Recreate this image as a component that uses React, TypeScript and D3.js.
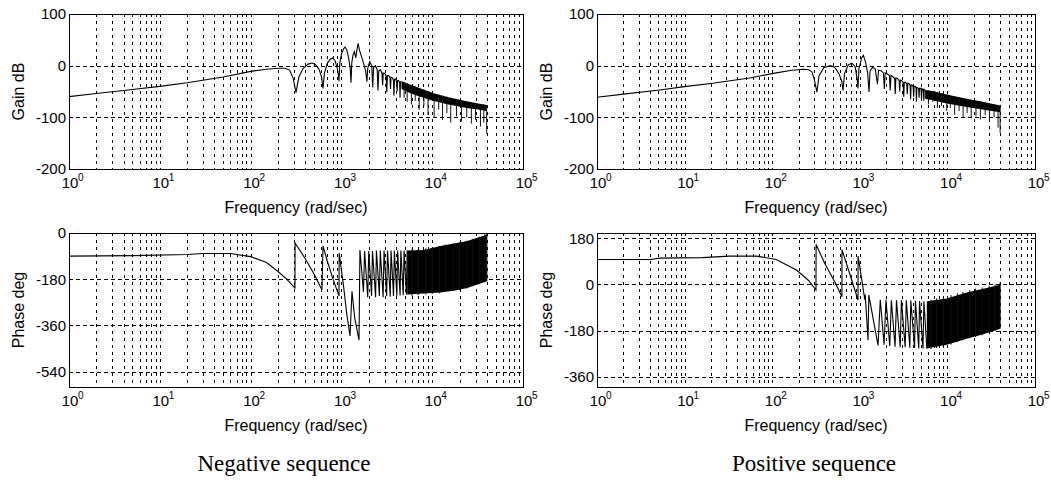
import { useRef, useEffect } from "react";
import * as d3 from "d3";

// ---------- Negative sequence : gain (dB)
const negGainFreq = [
  1, 2, 5, 10, 20, 50, 100, 150, 200, 240,
  270, 295, 316, 340, 380, 430, 474, 520, 570, 605,
  627, 650, 700, 760, 800, 850, 900, 930, 941, 960,
  1000, 1060, 1100, 1150, 1200, 1250, 1276, 1300, 1340, 1390,
  1440, 1480, 1530, 1580, 1650, 1750, 1850, 1910, 1950, 2050,
  2160, 2212, 2260, 2370, 2480, 2528, 2580, 2690, 2800, 2844,
  2890, 3000, 3110, 3160, 3210, 3320, 3430, 3476, 3520, 3630,
  3740, 3792, 3840, 3950, 4060, 4108, 4160, 4270, 4380, 4424,
  4470, 4590,
];
const negGainDb = [
  -60, -54, -46, -40, -33, -22, -11, -7, -5, -5,
  -9, -25, -52, -22, -5, 3, 5, 2, -8, -22,
  -44, -15, 5, 13, 15, 10, -5, -20, -30, 5,
  22, 33, 36, 30, 15, -5, -33, 5, 20, 27,
  15, 30, 43, 30, 20, 5, -10, -31, -5, 8,
  0, -42, -3, 0, -8, -48, -10, -8, -15, -38,
  -14, -15, -20, -52, -19, -19, -24, -45, -22, -23,
  -28, -58, -26, -26, -31, -50, -29, -29, -33, -62,
  -31, -31,
];
const negGainBandFreq = [4590, 6000, 8000, 10200, 15000, 24000, 32000, 40000];
const negGainBandTop = [-30, -38, -46, -53, -61, -69, -73, -76];
const negGainBandLow = [-45, -55, -62, -68, -75, -82, -85, -88];
const negGainSpikeFreq = [4900, 5300, 5900, 6500, 7200, 8100, 9000, 10500, 11800, 13000, 14500, 16000, 18500, 21000, 24000, 27000, 30000, 34000, 37000, 39800];
const negGainSpikeTop = [-32, -34, -37, -40, -43, -46, -49, -54, -56, -58, -60, -62, -65, -67, -69, -71, -72, -74, -75, -76];
const negGainSpikeLow = [-62, -70, -75, -68, -85, -78, -95, -100, -85, -105, -92, -110, -98, -108, -100, -112, -105, -118, -110, -132];

// ---------- Positive sequence : gain (dB)
const posGainFreq = [
  1, 2, 5.2, 10.5, 21, 55, 111, 168, 226, 260,
  284, 301, 324, 342, 388, 459, 517, 576, 623, 643,
  670, 741, 813, 885, 931, 953, 979, 1051, 1099, 1159,
  1230, 1274, 1310, 1400, 1500, 1590, 1640, 1750, 1860, 1906,
  1950, 2060, 2180, 2222, 2270, 2380, 2500, 2538, 2580, 2700,
  2810, 2854, 2900, 3010, 3130, 3170, 3220, 3330, 3440, 3486,
  3530, 3650, 3760, 3802, 3850, 3960, 4070, 4118, 4170, 4280,
  4390, 4434, 4480, 4600, 4700, 4750, 4800, 5000, 5066, 5120,
  5300, 5382, 5440, 5570,
];
const posGainDb = [
  -61, -55, -47, -40, -34, -24, -14, -9, -7, -8,
  -12, -25, -51, -20, -4, 0, -3, -15, -30, -48,
  -15, 2, 5, -2, -25, -44, -5, 15, 20, 8,
  -15, -51, -10, -3, -6, -36, -9, -10, -14, -45,
  -14, -16, -19, -48, -19, -21, -25, -55, -24, -25,
  -29, -50, -28, -29, -33, -60, -32, -32, -36, -55,
  -34, -35, -39, -65, -37, -38, -41, -60, -40, -40,
  -43, -70, -42, -43, -45, -62, -44, -44, -65, -45,
  -46, -68, -46, -47,
];
const posGainBandFreq = [5570, 6800, 9820, 16600, 25100, 40000];
const posGainBandTop = [-47, -49, -56, -64, -70, -77];
const posGainBandLow = [-64, -67, -73, -80, -85, -90];
const posGainSpikeFreq = [6070, 6820, 7690, 8570, 9820, 10800, 12100, 13600, 15100, 16800, 18700, 21200, 23800, 27000, 30200, 34100, 37900, 40000];
const posGainSpikeTop = [-48, -49, -51, -53, -56, -58, -60, -61, -63, -64, -66, -68, -69, -71, -73, -75, -76, -77];
const posGainSpikeLow = [-75, -70, -82, -78, -88, -82, -95, -88, -100, -92, -102, -98, -104, -96, -108, -100, -120, -130];

// ---------- Negative sequence : phase (deg)
const negPhaseFreq = [
  1, 5, 20, 30, 60, 100, 150, 200, 250, 290,
  308, 309, 400, 500, 611, 627, 700, 800, 941, 945,
  1050, 1150, 1245, 1308, 1400, 1563, 1600, 1750, 1800, 1950,
  2000, 2150, 2200, 2380, 2430, 2620, 2680, 2880, 2950, 3150,
  3220, 3450, 3520, 3750, 3830, 4080, 4160, 4430, 4520, 4800,
  4900, 5200, 5300,
];
const negPhaseDeg = [
  -90, -88, -84, -80, -80, -92, -115, -150, -180, -205,
  -214, -39, -100, -160, -222, -50, -110, -175, -245, -78,
  -200, -320, -401, -227, -330, -417, -66, -230, -70, -250,
  -70, -245, -70, -250, -68, -245, -68, -250, -68, -245,
  -68, -248, -68, -245, -68, -245, -68, -243, -68, -242,
  -68, -240, -68,
];
const negPhaseBandFreq = [5300, 8000, 12300, 18000, 24300, 32000, 40000];
const negPhaseBandTop = [-68, -66, -51, -40, -31, -18, -7];
const negPhaseBandLow = [-240, -236, -232, -224, -214, -200, -188];
const negPhaseSpikeFreq = [6000, 7000, 8500, 10000, 12000, 14000, 17000, 20000, 24000, 28000, 33000, 38000, 40000];
const negPhaseSpikeTop = [-62, -64, -60, -58, -50, -45, -40, -36, -30, -22, -14, -4, 0];
const negPhaseSpikeLow = [-245, -242, -240, -238, -235, -230, -226, -222, -216, -208, -200, -192, -188];

// ---------- Positive sequence : phase (deg)
const posPhaseFreq = [
  1, 4.1, 5.2, 16, 32, 66, 111, 191, 260, 316,
  317, 400, 517, 625, 626, 753, 954, 956, 1051, 1140,
  1153, 1241, 1268, 1614, 1713, 1892, 1990, 2197, 2292, 2525,
  2624, 2891, 2987, 3296, 3395, 3725, 3822, 4218, 4317, 4710,
  4808, 5262, 5391, 5823,
];
const posPhaseDeg = [
  97, 97, 102, 104, 110, 110, 97, 55, 15, -22,
  155, 80, 10, -48, 135, 50, -61, 110, 20, -60,
  -40, -218, -42, -238, -60, -235, -60, -240, -62, -243,
  -62, -245, -62, -245, -62, -247, -63, -248, -64, -250,
  -65, -250, -66, -250,
];
const posPhaseBandFreq = [5823, 9820, 16600, 25100, 40000];
const posPhaseBandTop = [-66, -55, -32, -18, -2];
const posPhaseBandLow = [-250, -235, -212, -195, -173];
const posPhaseSpikeFreq = [6500, 7500, 9000, 11000, 13000, 15000, 18000, 21000, 25000, 30000, 35000, 40000];
const posPhaseSpikeTop = [-60, -55, -50, -42, -35, -30, -22, -17, -12, -6, 0, 8];
const posPhaseSpikeLow = [-252, -248, -242, -235, -225, -218, -210, -205, -198, -190, -182, -173];

const gainTicks = [-200, -100, 0, 100];
const negPhaseTicks = [-540, -360, -180, 0];
const posPhaseTicks = [-360, -180, 0, 180];
const decadeExps = [0, 1, 2, 3, 4, 5];
const captions = ["Negative sequence", "Positive sequence"];

const SANS = "'Liberation Sans', Arial, Helvetica, sans-serif";
const SERIF = "'Liberation Serif', 'Times New Roman', serif";

const panels = [
  {
    x0: 69, x1: 523, y0: 14, y1: 169, yDomain: [-200, 100], yTicks: gainTicks, yLabel: "Gain dB",
    lineFreq: negGainFreq, lineVal: negGainDb,
    bandFreq: negGainBandFreq, bandTop: negGainBandTop, bandLow: negGainBandLow,
    spikeFreq: negGainSpikeFreq, spikeTop: negGainSpikeTop, spikeLow: negGainSpikeLow,
  },
  {
    x0: 597, x1: 1035, y0: 14, y1: 169, yDomain: [-200, 100], yTicks: gainTicks, yLabel: "Gain dB",
    lineFreq: posGainFreq, lineVal: posGainDb,
    bandFreq: posGainBandFreq, bandTop: posGainBandTop, bandLow: posGainBandLow,
    spikeFreq: posGainSpikeFreq, spikeTop: posGainSpikeTop, spikeLow: posGainSpikeLow,
  },
  {
    x0: 69, x1: 523, y0: 233, y1: 387, yDomain: [-600, 0], yTicks: negPhaseTicks, yLabel: "Phase deg",
    lineFreq: negPhaseFreq, lineVal: negPhaseDeg,
    bandFreq: negPhaseBandFreq, bandTop: negPhaseBandTop, bandLow: negPhaseBandLow,
    spikeFreq: negPhaseSpikeFreq, spikeTop: negPhaseSpikeTop, spikeLow: negPhaseSpikeLow,
  },
  {
    x0: 597, x1: 1035, y0: 233, y1: 387, yDomain: [-400, 200], yTicks: posPhaseTicks, yLabel: "Phase deg",
    lineFreq: posPhaseFreq, lineVal: posPhaseDeg,
    bandFreq: posPhaseBandFreq, bandTop: posPhaseBandTop, bandLow: posPhaseBandLow,
    spikeFreq: posPhaseSpikeFreq, spikeTop: posPhaseSpikeTop, spikeLow: posPhaseSpikeLow,
  },
];

type Panel = (typeof panels)[number];

function drawPanel(svg: d3.Selection<SVGSVGElement, unknown, null, undefined>, p: Panel, idx: number) {
  const x = d3.scaleLog().domain([1, 1e5]).range([p.x0, p.x1]);
  const y = d3.scaleLinear().domain(p.yDomain).range([p.y1, p.y0]);
  const snap = (v: number) => Math.round(v) + 0.5;
  const g = svg.append("g");

  // log grid: every 2..9 x 10^k plus the decades
  const gridX: number[] = [];
  for (let k = 0; k < 5; k++) {
    for (let m = 1; m <= 9; m++) {
      const v = m * Math.pow(10, k);
      if (v > 1) gridX.push(v);
    }
  }
  g.append("g")
    .selectAll("line")
    .data(gridX)
    .join("line")
    .attr("x1", (d) => snap(x(d)))
    .attr("x2", (d) => snap(x(d)))
    .attr("y1", p.y0)
    .attr("y2", p.y1)
    .attr("stroke", "#000")
    .attr("stroke-dasharray", "3,4");

  const gridY = p.yTicks.filter((v) => v > p.yDomain[0] && v < p.yDomain[1]);
  g.append("g")
    .selectAll("line")
    .data(gridY)
    .join("line")
    .attr("x1", p.x0)
    .attr("x2", p.x1)
    .attr("y1", (d) => snap(y(d)))
    .attr("y2", (d) => snap(y(d)))
    .attr("stroke", "#000")
    .attr("stroke-dasharray", "4,3");

  // data, clipped to the axes box
  const clipId = "clip" + idx;
  svg
    .append("clipPath")
    .attr("id", clipId)
    .append("rect")
    .attr("x", p.x0)
    .attr("y", p.y0)
    .attr("width", p.x1 - p.x0)
    .attr("height", p.y1 - p.y0);
  const dg = g.append("g").attr("clip-path", `url(#${clipId})`);

  const band = d3
    .area<number>()
    .x((i) => x(p.bandFreq[i]))
    .y0((i) => y(p.bandLow[i]))
    .y1((i) => y(p.bandTop[i]));
  dg.append("path")
    .datum(d3.range(p.bandFreq.length))
    .attr("d", band)
    .attr("fill", "#000");

  dg.append("g")
    .selectAll("line")
    .data(d3.range(p.spikeFreq.length))
    .join("line")
    .attr("x1", (i) => x(p.spikeFreq[i]))
    .attr("x2", (i) => x(p.spikeFreq[i]))
    .attr("y1", (i) => y(p.spikeTop[i]))
    .attr("y2", (i) => y(p.spikeLow[i]))
    .attr("stroke", "#111")
    .attr("stroke-width", 1);

  const line = d3
    .line<number>()
    .x((i) => x(p.lineFreq[i]))
    .y((i) => y(p.lineVal[i]));
  dg.append("path")
    .datum(d3.range(p.lineFreq.length))
    .attr("d", line)
    .attr("fill", "none")
    .attr("stroke", "#000")
    .attr("stroke-width", 1.1);

  // box
  g.append("rect")
    .attr("x", p.x0 + 0.5)
    .attr("y", p.y0 + 0.5)
    .attr("width", p.x1 - p.x0)
    .attr("height", p.y1 - p.y0)
    .attr("fill", "none")
    .attr("stroke", "#000");

  // y tick labels
  g.append("g")
    .selectAll("text")
    .data(p.yTicks)
    .join("text")
    .attr("x", p.x0 - 3)
    .attr("y", (d) => y(d))
    .attr("dy", "0.36em")
    .attr("text-anchor", "end")
    .attr("font-family", SANS)
    .attr("font-size", 15)
    .text((d) => String(d));

  // x tick labels 10^k
  const xt = g.append("g").attr("font-family", SANS).attr("fill", "#000");
  xt.selectAll(".base")
    .data(decadeExps)
    .join("text")
    .attr("x", (d) => x(Math.pow(10, d)) + 1)
    .attr("y", p.y1 + 19)
    .attr("text-anchor", "middle")
    .attr("font-size", 15)
    .text("10");
  xt.selectAll(".exp")
    .data(decadeExps)
    .join("text")
    .attr("x", (d) => x(Math.pow(10, d)) + 9)
    .attr("y", p.y1 + 12)
    .attr("font-size", 10)
    .text((d) => String(d));

  // axis titles
  g.append("text")
    .attr("x", (p.x0 + p.x1) / 2)
    .attr("y", p.y1 + 44)
    .attr("text-anchor", "middle")
    .attr("font-family", SANS)
    .attr("font-size", 16)
    .text("Frequency (rad/sec)");
  g.append("text")
    .attr("transform", `translate(${p.x0 - 45},${(p.y0 + p.y1) / 2}) rotate(-90)`)
    .attr("text-anchor", "middle")
    .attr("font-family", SANS)
    .attr("font-size", 16)
    .text(p.yLabel);
}

export default function App() {
  const svgRef = useRef<SVGSVGElement>(null);

  useEffect(() => {
    document.body.style.margin = "0";
    const svg = d3.select(svgRef.current as SVGSVGElement);
    svg.selectAll("*").remove();
    panels.forEach((p, i) => drawPanel(svg, p, i));

    const captionX = [284, 814];
    svg
      .selectAll(".caption")
      .data(captions)
      .join("text")
      .attr("class", "caption")
      .attr("x", (_, i) => captionX[i])
      .attr("y", 471)
      .attr("text-anchor", "middle")
      .attr("font-family", SERIF)
      .attr("font-size", 23)
      .text((d) => d);
  }, []);

  return <svg ref={svgRef} width={1051} height={486} style={{ display: "block", background: "#fff" }} />;
}
